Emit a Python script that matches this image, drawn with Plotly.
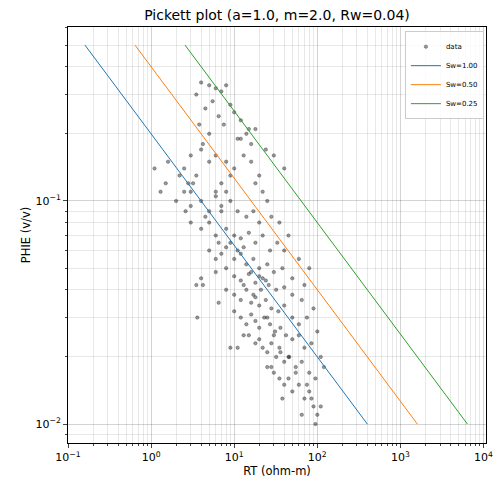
import numpy as np
import plotly.graph_objects as go

# scatter points (RT ohm-m, PHIE v/v)
rt = [4,5,6,3.5,7,8,5.5,4.5,9,10,6.5,3.8,12,15,5,7.5,11,4.2,
      3,4,5,6,8,10,13,16,20,2.5,3.5,7,9,18,22,25,2.8,6,
      2,2.5,3,4,5,6,7,9,11,14,17,20,28,35,45,1.6,3.2,8,
      3,4,5,6,8,10,12,15,18,22,27,33,40,60,80,2.6,4.5,7,
      5,6,7,8,10,12,14,17,20,25,30,38,50,70,9,11,13,6.5,
      4,6,8,10,12,15,18,22,26,32,40,50,65,90,3.5,16,20,24,
      8,10,12,14,16,18,20,24,28,34,40,50,60,75,100,13,17,21,
      10,12,14,16,18,20,23,27,31,36,42,50,60,70,85,110,25,30,
      15,18,20,22,25,28,32,36,40,46,55,65,80,95,120,35,45,28,
      25,30,35,40,45,50,60,70,80,90,100,110,38,55,75,65,85,95,
      1.1,1.5,1.3,2.2,3,14,18,12,16,24,30,40,6.5,9,11,13,4.2,3.6]
phie = [0.34,0.33,0.32,0.30,0.31,0.33,0.28,0.26,0.27,0.25,0.24,0.22,0.23,0.21,0.20,0.22,0.19,0.18,
        0.16,0.17,0.15,0.16,0.15,0.14,0.16,0.15,0.13,0.14,0.13,0.12,0.13,0.12,0.11,0.10,0.12,0.11,
        0.10,0.11,0.095,0.10,0.09,0.105,0.095,0.10,0.09,0.085,0.09,0.08,0.085,0.08,0.07,0.15,0.12,0.11,
        0.08,0.075,0.08,0.07,0.075,0.07,0.068,0.072,0.065,0.07,0.06,0.065,0.06,0.055,0.05,0.09,0.085,0.09,
        0.06,0.055,0.058,0.062,0.055,0.058,0.052,0.055,0.05,0.052,0.048,0.05,0.045,0.042,0.065,0.06,0.062,0.065,
        0.045,0.048,0.05,0.046,0.044,0.047,0.043,0.045,0.042,0.04,0.041,0.038,0.036,0.033,0.042,0.048,0.046,0.044,
        0.04,0.038,0.036,0.04,0.035,0.037,0.034,0.036,0.033,0.032,0.034,0.03,0.028,0.03,0.026,0.042,0.038,0.04,
        0.032,0.03,0.028,0.031,0.029,0.027,0.03,0.028,0.026,0.027,0.025,0.024,0.025,0.022,0.023,0.02,0.03,0.025,
        0.025,0.023,0.024,0.022,0.021,0.023,0.02,0.021,0.019,0.02,0.018,0.019,0.017,0.016,0.018,0.022,0.02,0.018,
        0.018,0.017,0.016,0.015,0.016,0.014,0.015,0.013,0.014,0.012,0.011,0.012,0.013,0.017,0.015,0.011,0.013,0.010,
        0.14,0.12,0.11,0.13,0.11,0.2,0.21,0.19,0.18,0.17,0.16,0.14,0.035,0.022,0.022,0.025,0.042,0.03]

a, m, n, rw = 1.0, 2.0, 2.0, 0.04
sw_values = [1.00, 0.50, 0.25]
colors = ["#1f77b4", "#ff7f0e", "#2ca02c"]
phi_line = np.array([0.01, 0.5])

fig = go.Figure()
fig.add_trace(go.Scatter(x=rt, y=phie, mode="markers", name="data",
                         marker=dict(color="rgba(0,0,0,0.4)", size=3.5,
                                     line=dict(color="rgba(0,0,0,0.5)", width=0.5))))
for sw, c in zip(sw_values, colors):
    rtl = a * rw / (phi_line ** m * sw ** n)
    fig.add_trace(go.Scatter(x=rtl, y=phi_line, mode="lines", name=f"Sw={sw:.2f}",
                             line=dict(color=c, width=1)))

def sup(e):
    return f"10<sup>{str(e).replace('-', '−')}</sup>"

grid = "rgba(0,0,0,0.09)"
axis_common = dict(type="log", showline=True, mirror=True, linecolor="black", linewidth=1,
                   ticks="outside", ticklen=4, zeroline=False, automargin=False,
                   gridcolor=grid, tickfont=dict(size=11), title_font=dict(size=11.5),
                   minor=dict(dtick="D1", showgrid=True, gridcolor=grid, ticks="outside", ticklen=2))
fig.update_layout(
    width=494, height=487, template="plotly_white",
    font=dict(family="DejaVu Sans", size=12, color="black"),
    title=dict(text="Pickett plot (a=1.0, m=2.0, Rw=0.04)", x=0.5, xref="paper",
               y=0.986, yanchor="middle", xanchor="center", font=dict(size=14)),
    margin=dict(l=60, r=16, t=19, b=52, autoexpand=False),
    showlegend=True,
    legend=dict(x=0.995, y=0.99, xanchor="right", yanchor="top", font=dict(size=7),
                itemwidth=30, tracegroupgap=0,
                bordercolor="#cccccc", borderwidth=1, bgcolor="rgba(255,255,255,0.8)"),
    xaxis=dict(axis_common, range=[-1.0, 4.03], title=dict(text="RT (ohm-m)", standoff=2),
               tickvals=[0.1, 1, 10, 100, 1000, 10000], ticktext=[sup(e) for e in range(-1, 5)]),
    yaxis=dict(axis_common, range=[-2.085, -0.22], title=dict(text="PHIE (v/v)", standoff=2),
               tickvals=[0.01, 0.1], ticktext=[sup(-2), sup(-1)]),
)
fig.write_html("out.html")
